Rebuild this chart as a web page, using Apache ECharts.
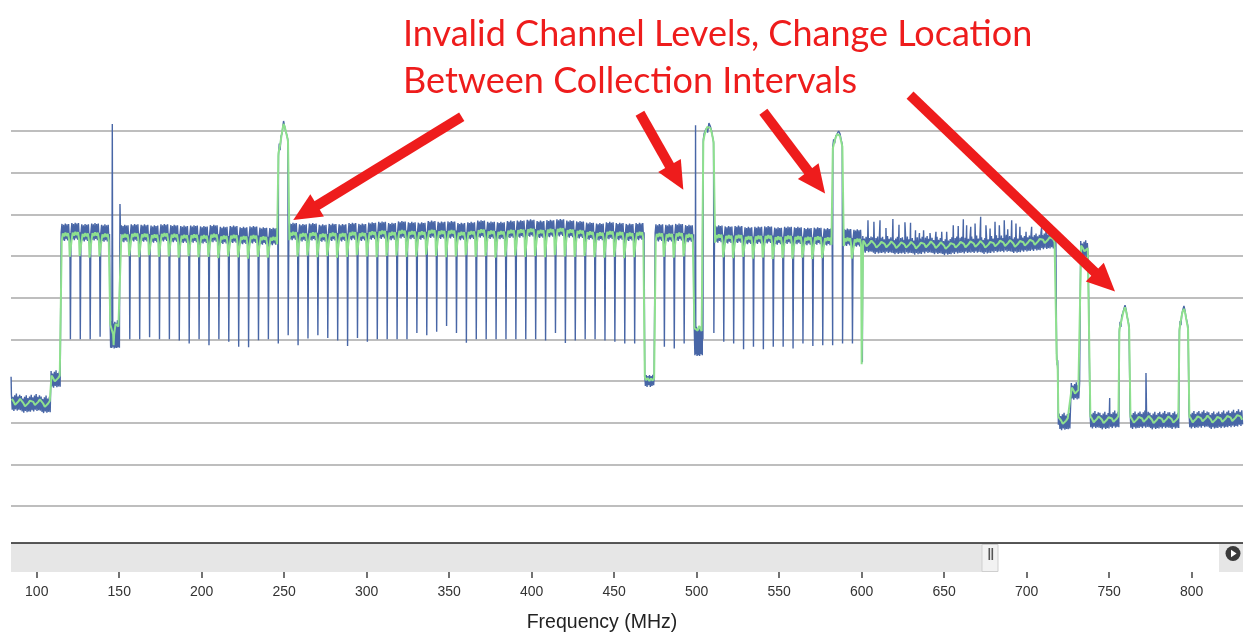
<!DOCTYPE html>
<html><head><meta charset="utf-8">
<script src="https://cdn.jsdelivr.net/npm/echarts@6/dist/echarts.min.js"></script>
<style>html,body{margin:0;padding:0;background:#fff}#chart{width:1248px;height:634px}</style>
</head><body><div id="chart"></div>
<script>
// ---------- axis ticks ----------
const tickLabels = [100,150,200,250,300,350,400,450,500,550,600,650,700,750,800];

// ---------- 6 MHz channel comb (edges where traces notch down) ----------
const chanEdge = [114.4,120.4,126.4,132.4,138.4,144.4,150.4,156.4,162.4,168.4,174.4,180.4,186.4,192.4,198.4,204.4,210.4,216.4,222.4,228.4,234.4,240.4,246.4,252.4,258.4,264.4,270.4,276.4,282.4,288.4,294.4,300.4,306.4,312.4,318.4,324.4,330.4,336.4,342.4,348.4,354.4,360.4,366.4,372.4,378.4,384.4,390.4,396.4,402.4,408.4,414.4,420.4,426.4,432.4,438.4,444.4,450.4,456.4,462.4,468.4,474.4,480.4,486.4,492.4,498.4,504.4,510.4,516.4,522.4,528.4,534.4,540.4,546.4,552.4,558.4,564.4,570.4,576.4,582.4,588.4,594.4,600.4];
// channel level (dB) of the average (green) trace, one per channel
const chanLevel = [-44.8,-44.6,-44.9,-44.7,-45.0,-67.5,
 -45.1,-44.9,-45.0,-45.2,-44.9,-45.1,-45.3,
 -45.2,-45.4,-45.1,-45.5,-45.3,-45.6,-45.4,-45.7,-45.8,
 -45.0,
 -44.6,-44.9,-44.7,-45.0,-44.8,-44.9,-44.6,-44.8,
 -44.5,-44.3,-44.6,-44.2,-44.4,-44.5,-44.1,-44.3,-44.2,-44.6,-44.4,-44.0,-44.3,-44.4,-44.1,
 -44.0,-43.8,-44.1,-43.9,-43.7,-44.0,-44.2,
 -44.5,-44.7,-44.4,-44.6,-44.8,-44.6,
 -79.5,
 -44.9,-45.0,-44.8,-45.1,
 -67.8,-45.0,
 -45.2,-45.4,-45.3,-45.6,-45.5,-45.4,-45.7,-45.5,-45.6,-45.8,-45.7,-45.9,
 -45.0,
 -46.0,-46.2];
// notch depth at each channel edge, max-hold (blue) trace
const blueNotch = [null,-70.0,-70.0,-70.0,-69.4,null,null,-70.0,-70.0,-69.5,-70.0,-70.0,-70.3,-71.0,-70.0,-71.4,-70.0,-70.6,-71.8,-71.9,-70.2,-70.0,-71.0,-69.0,-71.4,-69.8,-69.0,-69.7,-70.3,-71.6,-69.7,-70.6,-70.0,-70.0,-70.0,-70.0,-68.5,-69.0,-68.2,-66.8,-68.5,-70.8,-70.0,-70.0,-70.0,-70.0,-70.0,-70.0,-70.0,-70.3,-68.5,-70.9,-70.3,-70.0,-70.0,-70.3,-70.6,-71.0,-71.0,null,null,-71.8,-72.2,-71.0,null,null,-68.5,-70.6,-71.0,-72.4,-71.8,-72.4,-71.8,-71.8,-72.2,-71.0,-71.6,-71.4,-71.4,-71.0,-71.0,-75.5];
// notch depth at each channel edge, average (green) trace
const greenNotch = [null,-50.2,-50.0,-50.4,-50.1,null,null,
 -50.0,-50.3,-49.8,-50.2,-50.1,-50.4,-50.0,-50.3,-50.2,-50.5,-50.1,-50.3,-50.6,-50.2,-50.4,
 null,null,
 -50.1,-49.9,-50.3,-50.0,-50.4,-50.2,-49.8,-50.1,-50.3,-50.0,-49.9,-50.2,-50.1,-49.7,-50.0,-50.3,-50.1,-49.8,-50.2,-50.0,-50.4,-50.1,-49.9,-50.2,-50.0,-50.3,-49.8,-50.1,-50.2,-50.0,-50.3,-50.4,-50.2,-50.5,-50.3,
 null,null,
 -50.2,-50.4,-50.1,
 null,null,null,
 -50.3,-50.5,-50.2,-50.6,-50.4,-50.7,-50.5,-50.6,-50.4,-50.7,-50.5,
 null,null,
 -50.6,-76.0];

// in-channel shape of each trace (offset MHz from channel start, dB relative to level)
const chanBlueOff = [0.4,0.9,1.4,1.9,2.4,2.9,3.4,3.9,4.4,4.9,5.4,5.7];
const chanBlueDb  = [0.4,2.5,-1.4,2.3,-1.6,2.6,-1.2,2.4,-1.5,2.5,-1.3,0.3];
const chanGreenOff = [0.75,1.4,2.2,3.0,3.8,4.6,5.25];
const chanGreenDb  = [-1.6,0.2,-0.5,0.4,-0.4,0.3,-1.4];
// ripple shape on the flat (no-notch) stretches
const wigBlueOff = [0.25,0.75,1.25,1.75,2.25,2.75,3.25,3.75,4.25,4.75,5.25,5.75];
const wigBlueDb  = [1.8,-1.9,1.2,-2.2,1.6,-1.8,2.0,-2.1,1.3,-1.9,1.7,-2.0];
const wigGreenOff = [0.5,1.5,2.5,3.5,4.5,5.5];
const wigGreenDb  = [0.7,0.1,-0.7,-0.6,0.1,0.7];

// special channels [MHz, dB]
const block1Blue = [[144.5,-66.0],[144.8,-72.0],[145.1,-65.6],[145.5,-72.1],[145.8,-18.3],[146.1,-71.8],[146.5,-66.2],[146.9,-72.2],[147.3,-65.8],[147.7,-72.0],[148.1,-66.0],[148.5,-72.1],[148.9,-65.4],[149.3,-71.9],[149.7,-65.6],[150.1,-72.0],[150.45,-37.5]];
const block1Green = [[144.6,-66.5],[145.4,-66.3],[146.3,-68.8],[146.6,-71.4],[146.9,-68.8],[147.8,-66.3],[148.6,-66.7],[149.5,-66.9],[150.2,-66.6]];
const peak1Blue = [[246.5,-26.0],[247.0,-23.0],[247.5,-24.6],[248.1,-21.2],[248.7,-20.6],[249.2,-18.8],[249.6,-17.6],[250.1,-18.6],[250.8,-19.9],[251.6,-21.0],[252.2,-22.2]];
const peak1Green = [[246.5,-25.3],[247.3,-23.8],[248.2,-21.5],[249.0,-19.5],[249.6,-18.3],[250.3,-19.0],[251.2,-20.5],[252.0,-21.8],[252.3,-22.6]];
const floorChBlue = [[468.5,-78.4],[468.9,-81.2],[469.4,-78.6],[469.9,-81.4],[470.4,-78.8],[470.9,-81.0],[471.4,-78.6],[471.9,-81.4],[472.4,-78.8],[472.9,-81.2],[473.4,-78.5],[473.9,-81.0],[474.2,-78.8]];
const floorChGreen = [[468.55,-79.0],[469.3,-79.8],[470.3,-79.3],[471.3,-80.0],[472.3,-79.4],[473.3,-79.9],[474.2,-79.3]];
const block2Blue = [[498.5,-67.2],[498.9,-73.8],[499.15,-67.5],[499.3,-18.6],[499.45,-73.6],[499.8,-67.0],[500.2,-74.0],[500.6,-67.4],[501.0,-73.8],[501.4,-67.2],[501.8,-74.0],[502.2,-67.0],[502.6,-73.6],[503.0,-67.4],[503.4,-73.8],[503.6,-39.0],[503.78,-70.0]];
const block2Green = [[498.6,-67.3],[499.6,-67.6],[500.6,-67.9],[501.4,-66.8],[502.3,-67.0],[503.0,-68.0],[503.75,-67.6]];
const peak2Blue = [[504.0,-22.0],[504.5,-20.6],[505.3,-19.8],[506.0,-19.3],[506.6,-20.4],[507.4,-18.1],[508.2,-18.8],[509.0,-20.0],[509.8,-21.8],[510.2,-22.6]];
const peak2Green = [[504.0,-22.6],[504.6,-21.2],[505.4,-20.0],[506.4,-19.0],[507.4,-18.6],[508.3,-19.3],[509.2,-20.6],[510.0,-22.2],[510.25,-23.0]];
const peak3Blue = [[582.5,-23.6],[583.0,-22.0],[583.6,-23.0],[584.3,-21.2],[585.2,-20.6],[586.0,-20.0],[586.8,-20.6],[587.5,-22.0],[588.2,-23.2]];
const peak3Green = [[582.5,-24.2],[583.3,-22.8],[584.2,-21.6],[585.2,-20.7],[586.0,-20.4],[586.8,-21.2],[587.6,-22.6],[588.3,-23.8]];

// flat stretches outside the comb: start, end, level per 6 MHz cell
const segFrom = [84.4,108.45,600.4,719.4,726.8,732.5,738.1,762.4,798.1];
const segTo   = [108.3,114.3,718.0,726.5,732.1,737.7,755.9,792.3,831.1];
const segLevel = [
  [-85.0,-85.4,-85.1,-85.5],
  [-79.4],
  [-47.0,-47.3,-47.2,-47.4,-47.3,-47.5,-47.2,-47.4,-47.6,-47.3,-47.2,-47.1,-47.3,-47.0,-46.9,-47.1,-46.8,-46.6,-46.2,-46.0],
  [-89.6,-89.5],
  [-82.3],
  [-48.2],
  [-89.2,-89.4,-89.1],
  [-89.3,-89.1,-89.4,-89.2,-89.3],
  [-89.2,-89.0,-89.3,-89.1,-88.9,-88.6]
];
// upward spikes of the max-hold trace
const spikeF = [84.45,603.8,607.4,611.1,614.7,618.9,622.6,626.2,629.6,632.6,635.0,637.5,641.4,645.0,648.5,651.5,655.5,658.5,661.6,663.6,666.1,668.7,672.1,675.3,677.8,680.8,683.4,686.4,688.5,690.9,693.5,695.9,699.6,703.0,706.1,709.1,712.1,750.3,772.3];
const spikeV = [-79.0,-41.4,-41.8,-41.4,-43.3,-41.1,-42.5,-41.9,-42.0,-43.8,-44.5,-43.8,-44.5,-44.2,-44.2,-44.2,-42.6,-42.8,-41.2,-42.6,-43.0,-42.2,-40.6,-42.6,-43.4,-41.8,-42.6,-41.4,-43.6,-41.4,-42.2,-43.0,-44.2,-43.0,-44.2,-43.0,-43.0,-84.1,-78.1];
// drop at 718 MHz and the two right-hand peaks
const dropBlue = [[718.15,-73.5],[718.5,-76.2],[718.8,-75.0],[719.2,-90.5]];
const dropGreen = [[718.2,-74.8],[718.5,-75.6],[718.8,-77.2],[719.2,-88.6]];
const peak4Blue = [[756.15,-68.2],[756.6,-65.8],[757.1,-67.0],[757.6,-64.4],[758.3,-63.6],[759.0,-62.6],[759.6,-61.8],[760.2,-62.8],[760.9,-64.6],[761.5,-65.6],[762.05,-67.0]];
const peak4Green = [[756.2,-67.6],[756.9,-66.4],[757.7,-65.0],[758.6,-63.4],[759.6,-62.3],[760.4,-63.5],[761.2,-65.2],[761.9,-66.8],[762.1,-67.6]];
const peak5Blue = [[792.55,-68.0],[793.0,-65.6],[793.5,-66.6],[794.0,-64.0],[794.7,-62.8],[795.3,-62.0],[795.9,-63.0],[796.6,-64.8],[797.3,-66.0],[797.85,-67.4]];
const peak5Green = [[792.6,-67.6],[793.2,-66.0],[793.9,-64.4],[794.6,-63.2],[795.3,-62.7],[796.0,-63.6],[796.8,-65.4],[797.5,-66.8],[797.8,-67.5]];

// annotation arrows [tail, head] in MHz / dB
const arrowFrom = [[357.6,-16.6],[465.6,-15.75],[540.4,-15.4],[629.3,-11.4]];
const arrowTo   = [[262.7,-39.6],[487.7,-31.2],[572.7,-32.3],[747.4,-56.2]];

// ---------- assemble traces ----------
const special = {5:[block1Blue,block1Green],22:[peak1Blue,peak1Green],59:[floorChBlue,floorChGreen],64:[block2Blue,block2Green],65:[peak2Blue,peak2Green],78:[peak3Blue,peak3Green]};
const blue = [], green = [];
function notch(j) {
  const s = chanEdge[j];
  if (blueNotch[j] !== null) blue.push([s, blueNotch[j]]);
  if (greenNotch[j] !== null) green.push([s-0.42, greenNotch[j]], [s+0.42, greenNotch[j]]);
}
for (let j = 0; j < chanLevel.length; j++) {
  const s = chanEdge[j], L = chanLevel[j];
  notch(j);
  if (special[j]) { blue.push(...special[j][0]); green.push(...special[j][1]); continue; }
  chanBlueOff.forEach((o,k) => blue.push([s+o, L+chanBlueDb[k]]));
  chanGreenOff.forEach((o,k) => green.push([s+o, L+chanGreenDb[k]]));
}
notch(chanEdge.length - 1);
segFrom.forEach((a, i) => {
  segLevel[i].forEach((L, c) => {
    const s = a + 6*c;
    wigBlueOff.forEach((o,k) => { if (s+o < segTo[i]) blue.push([s+o, L+wigBlueDb[k]]); });
    wigGreenOff.forEach((o,k) => { if (s+o < segTo[i]) green.push([s+o, L+wigGreenDb[k]]); });
  });
});
spikeF.forEach((f,i) => blue.push([f, spikeV[i]]));
blue.push(...dropBlue, ...peak4Blue, ...peak5Blue);
green.push(...dropGreen, ...peak4Green, ...peak5Green);
blue.sort((a,b) => a[0]-b[0]);
green.sort((a,b) => a[0]-b[0]);

const chart = echarts.init(document.getElementById('chart'));
const RED = '#ee1c1c';
chart.setOption({
  animation: false,
  backgroundColor: '#fff',
  grid: {left: 11, right: 5, top: 89.33, bottom: 86.33, containLabel: false},
  xAxis: {
    type: 'value', min: 84.4, max: 831.1, offset: 24.33,
    axisLine: {show: false}, splitLine: {show: false},
    axisTick: {show: true, customValues: tickLabels, length: 6, lineStyle: {color: '#444', width: 1.5}},
    axisLabel: {customValues: tickLabels, margin: 13, color: '#333', fontSize: 14, fontFamily: 'Liberation Sans'}
  },
  yAxis: {
    type: 'value', min: -120, max: -10, interval: 10,
    axisLine: {show: false}, axisTick: {show: false}, axisLabel: {show: false},
    splitLine: {show: true, showMinLine: false, showMaxLine: false, lineStyle: {color: '#a8a8a8', width: 1.5}}
  },
  series: [
    {type: 'line', name: 'Max hold', data: blue, showSymbol: false, lineStyle: {color: '#4866a6', width: 1.4}, z: 2},
    {type: 'line', name: 'Average', data: green, showSymbol: false, lineStyle: {color: '#8ee08e', width: 2}, z: 3,
     markLine: {silent: true, symbol: ['none','triangle'], symbolSize: [26, 28], label: {show: false},
       lineStyle: {color: RED, width: 10, type: 'solid', cap: 'butt'},
       data: arrowFrom.map((a,i) => [{coord: a}, {coord: arrowTo[i]}])}}
  ],
  graphic: [
    {type: 'rect', z: 100, shape: {x: 11, y: 543, width: 1232, height: 29}, style: {fill: '#e6e6e6'}},
    {type: 'rect', z: 101, shape: {x: 983, y: 544, width: 236, height: 28}, style: {fill: '#ffffff'}},
    {type: 'rect', z: 102, shape: {x: 982, y: 544.5, width: 16, height: 27}, style: {fill: '#f2f2f2', stroke: '#cfcfcf', lineWidth: 1}},
    {type: 'rect', z: 103, shape: {x: 988.5, y: 548, width: 1.6, height: 12}, style: {fill: '#555'}},
    {type: 'rect', z: 103, shape: {x: 991.5, y: 548, width: 1.6, height: 12}, style: {fill: '#555'}},
    {type: 'line', z: 104, shape: {x1: 11, y1: 543, x2: 1243, y2: 543}, style: {stroke: '#222', lineWidth: 1.5}},
    {type: 'circle', z: 104, shape: {cx: 1233, cy: 553.5, r: 7.5}, style: {fill: '#3a3a3a'}},
    {type: 'polygon', z: 105, shape: {points: [[1231, 549.8], [1231, 557.2], [1236.6, 553.5]]}, style: {fill: '#fff'}},
    {type: 'text', z: 110, x: 602, y: 623, style: {text: 'Frequency (MHz)', fill: '#222', fontSize: 19.5, fontFamily: 'Liberation Sans', align: 'center', verticalAlign: 'middle'}},
    {type: 'text', z: 110, x: 403, y: 34, style: {text: 'Invalid Channel Levels, Change Location', fill: RED, fontSize: 36, fontFamily: 'Lato', align: 'left', verticalAlign: 'middle'}},
    {type: 'text', z: 110, x: 403, y: 81, style: {text: 'Between Collection Intervals', fill: RED, fontSize: 36, fontFamily: 'Lato', align: 'left', verticalAlign: 'middle'}}
  ]
});
</script>
</body></html>
